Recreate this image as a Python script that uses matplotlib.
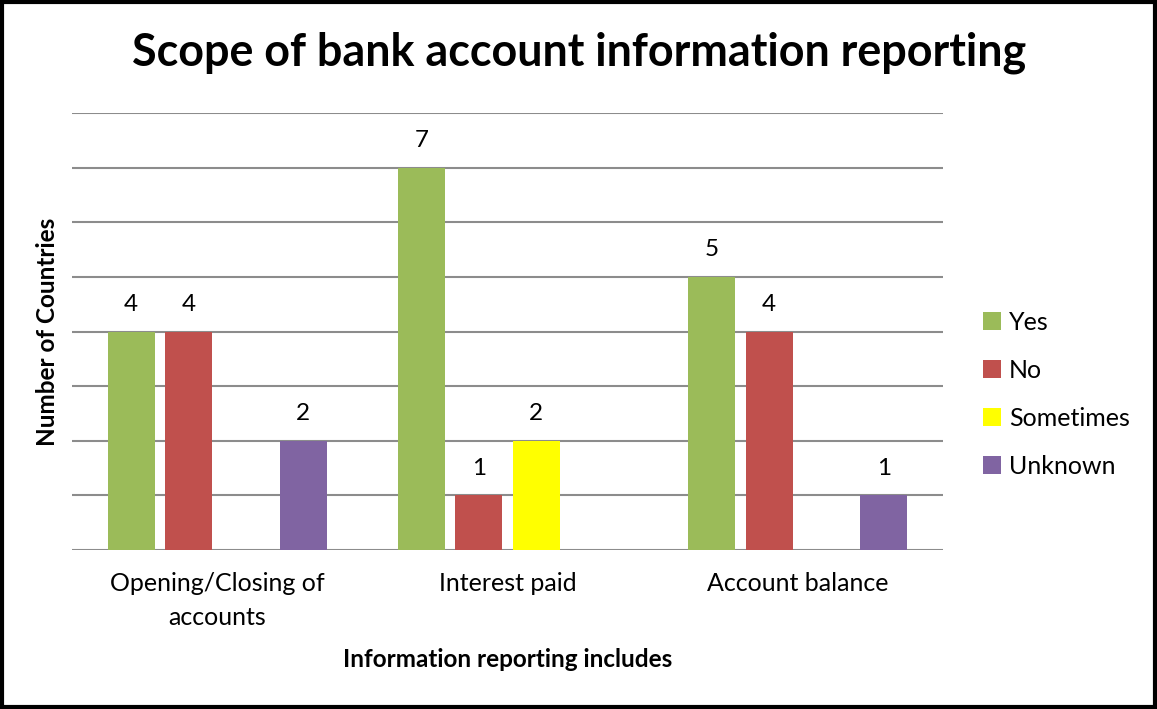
import numpy as np
import matplotlib
matplotlib.use("Agg")
import matplotlib.pyplot as plt
from matplotlib.patches import Rectangle

plt.rcParams['font.family'] = ['Lato', 'DejaVu Sans']

# data
categories = ["Opening/Closing of\naccounts", "Interest paid", "Account balance"]
series_names = ["Yes", "No", "Sometimes", "Unknown"]
yes_vals = [4, 7, 5]
no_vals = [4, 1, 4]
sometimes_vals = [0, 2, 0]
unknown_vals = [2, 0, 1]
colors = ["#9BBB59", "#C0504D", "#FFFF00", "#8064A2"]

series = [yes_vals, no_vals, sometimes_vals, unknown_vals]

fig = plt.figure(figsize=(11.57, 7.09), dpi=100)
ax = fig.add_axes([72 / 1157, 1 - 550 / 709, (943 - 72) / 1157, (550 - 113) / 709])

x = np.arange(len(categories))
slot = 0.1975
width = 0.162
for i, (vals, name, col) in enumerate(zip(series, series_names, colors)):
    pos = x + (i - 1.5) * slot
    bars = ax.bar(pos, vals, width=width, color=col, label=name, zorder=3)
    for b, v in zip(bars, vals):
        if v > 0:
            ax.text(b.get_x() + b.get_width() / 2, v + 0.3, str(v),
                    ha="center", va="bottom", fontsize=17.5, color="black")

ax.set_xlim(-0.5, len(categories) - 0.5)
ax.set_ylim(0, 8)
ax.set_yticks(range(0, 9))
ax.yaxis.grid(True, color="#8c8c8c", linewidth=1.5, zorder=0)
ax.set_yticklabels([])
ax.tick_params(axis="y", length=0)
ax.tick_params(axis="x", length=0, labelsize=18, pad=16)
ax.set_xticks(x)
ax.set_xticklabels(categories, linespacing=1.55)
for s in ax.spines.values():
    s.set_visible(False)

ax.set_ylabel("Number of Countries", fontsize=17.5, fontweight="bold", labelpad=6)
ax.set_xlabel("Information reporting includes", fontsize=17.5, fontweight="bold", labelpad=14)

fig.suptitle("Scope of bank account information reporting", fontsize=32.3,
             fontweight="bold", x=579 / 1157, y=1 - 53 / 709, va="center")

leg = fig.legend(loc="center left", bbox_to_anchor=(960 / 1157, 1 - 394 / 709), frameon=False,
                 fontsize=18, handlelength=0.75, handleheight=0.75,
                 labelspacing=1.0, handletextpad=0.3)

fig.patches.append(Rectangle((0.0015, 0.0025), 0.997, 0.995, transform=fig.transFigure,
                             fill=False, edgecolor="black", linewidth=3))

fig.savefig("out.png", dpi=100)
